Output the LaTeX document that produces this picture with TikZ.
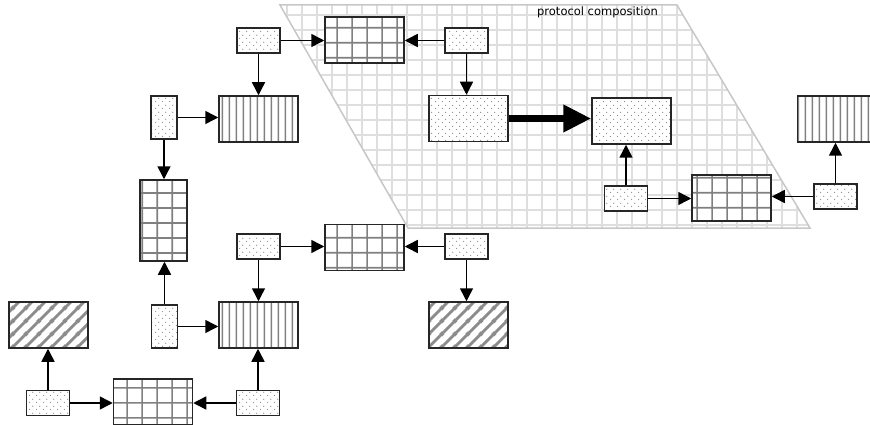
\documentclass[tikz,border=0pt]{standalone}
\usepackage{fontspec}
\newfontfamily\labelfont{DejaVu Sans}
\usetikzlibrary{arrows.meta,patterns.meta}

\tikzdeclarepattern{name=pdots,type=uncolored,
  bounding box={(0pt,0pt) and (7pt,7pt)},tile size={(7pt,7pt)},
  code={\fill (1.75pt,1.75pt) circle (0.7pt); \fill (5.25pt,5.25pt) circle (0.7pt);}}
\tikzdeclarepattern{name=pstripes,type=uncolored,
  bounding box={(0pt,0pt) and (7.3pt,2pt)},tile size={(7.3pt,2pt)},
  code={\draw[line width=1.8pt] (3.65pt,-1pt) -- (3.65pt,3pt);}}
\tikzdeclarepattern{name=pgrid,type=uncolored,
  bounding box={(0pt,0pt) and (15pt,15pt)},tile size={(15pt,15pt)},
  code={\draw[line width=1.8pt] (7.5pt,-1pt) -- (7.5pt,16pt) (-1pt,7.5pt) -- (16pt,7.5pt);}}
\tikzdeclarepattern{name=phatch,type=uncolored,
  bounding box={(0pt,0pt) and (13pt,13pt)},tile size={(13pt,13pt)},
  code={\draw[line width=3pt] (-1pt,-1pt) -- (14pt,14pt) (-2pt,11pt) -- (2pt,15pt) (11pt,-2pt) -- (15pt,2pt);}}

\begin{document}
\begin{tikzpicture}[x=1pt,y=-1pt,
    boxed/.style={draw=black!85,line width=1.5pt,preaction={fill=white},inner sep=0pt},
    dotsmall/.style={boxed,pattern=pdots,pattern color=black!45,minimum width=43pt,minimum height=25pt},
    dottall/.style={dotsmall,minimum width=26pt,minimum height=43pt},
    bigbox/.style={boxed,minimum width=79pt,minimum height=46pt},
    dotbig/.style={bigbox,pattern=pdots,pattern color=black!45},
    stripebox/.style={bigbox,pattern=pstripes,pattern color=black!50},
    gridbox/.style={bigbox,pattern=pgrid,pattern color=black!50},
    gridtall/.style={gridbox,minimum width=47pt,minimum height=81pt},
    hatchbox/.style={bigbox,pattern=phatch,pattern color=black!45},
    arr/.style={line width=1.5pt,-{Triangle[length=13pt,width=13pt]}}]
            \useasboundingbox (0,0) rectangle (870,425);
            \begin{scope}
            \clip (280,5) -- (677,5) -- (810,228) -- (408,228) -- cycle;
            \draw[black!13,line width=1.8pt,step=15pt,xshift=2pt] (270,0) grid (830,240);
            \end{scope}
            \draw[black!22,line width=1.5pt] (280,5) -- (677,5) -- (810,228) -- (408,228) -- cycle;
            \node[font=\labelfont\fontsize{11.5}{13}\selectfont,text=black,inner sep=0pt] (title) at (597.5,12) {protocol composition};
            \node[dotsmall] (s_1) at (258.5,40.5) {};
            \node[gridbox] (g_1) at (364.5,40) {};
            \node[dotsmall] (s_2) at (466.5,40.5) {};
            \node[stripebox] (v_1) at (258.5,119) {};
            \node[dotbig] (d_1) at (468.5,118.5) {};
            \node[dotbig] (d_2) at (631.5,121) {};
            \node[dotsmall] (s_3) at (626,198.5) {};
            \node[gridbox] (g_2) at (731.5,198) {};
            \node[dotsmall] (s_4) at (835.5,196.5) {};
            \node[stripebox] (v_2) at (837,119) {};
            \node[dottall] (t_1) at (164,117.5) {};
            \node[gridtall] (g_3) at (163.5,220.5) {};
            \node[dottall] (t_2) at (164.5,326.5) {};
            \node[dotsmall] (s_5) at (258.5,246.5) {};
            \node[gridbox] (g_4) at (364.5,247.5) {};
            \node[dotsmall] (s_6) at (466.5,246.5) {};
            \node[hatchbox] (h_1) at (468.5,325) {};
            \node[stripebox] (v_3) at (258.5,325) {};
            \node[hatchbox] (h_2) at (48.5,325) {};
            \node[dotsmall] (s_7) at (48,403) {};
            \node[gridbox] (g_5) at (153,402) {};
            \node[dotsmall] (s_8) at (258,403) {};
            \draw[arr] (s_1.east) -- (s_1.east -| g_1.west);
            \draw[arr] (s_1.south) -- (s_1.south |- v_1.north);
            \draw[arr] (s_2.west) -- (s_2.west -| g_1.east);
            \draw[arr] (s_2.south) -- (s_2.south |- d_1.north);
            \draw[line width=7pt,-{Triangle[length=28pt,width=26pt]}] (d_1.east) -- (d_1.east -| d_2.west);
            \draw[arr] (s_3.north) -- (s_3.north |- d_2.south);
            \draw[arr] (s_3.east) -- (s_3.east -| g_2.west);
            \draw[arr] (s_4.west) -- (s_4.west -| g_2.east);
            \draw[arr] (s_4.north) -- (s_4.north |- v_2.south);
            \draw[arr] (t_1.east) -- (t_1.east -| v_1.west);
            \draw[arr] (t_1.south) -- (t_1.south |- g_3.north);
            \draw[arr] (t_2.north) -- (t_2.north |- g_3.south);
            \draw[arr] (t_2.east) -- (t_2.east -| v_3.west);
            \draw[arr] (s_5.east) -- (s_5.east -| g_4.west);
            \draw[arr] (s_5.south) -- (s_5.south |- v_3.north);
            \draw[arr] (s_6.west) -- (s_6.west -| g_4.east);
            \draw[arr] (s_6.south) -- (s_6.south |- h_1.north);
            \draw[arr] (s_7.north) -- (s_7.north |- h_2.south);
            \draw[arr] (s_7.east) -- (s_7.east -| g_5.west);
            \draw[arr] (s_8.west) -- (s_8.west -| g_5.east);
            \draw[arr] (s_8.north) -- (s_8.north |- v_3.south);
    \end{tikzpicture}
\end{document}
